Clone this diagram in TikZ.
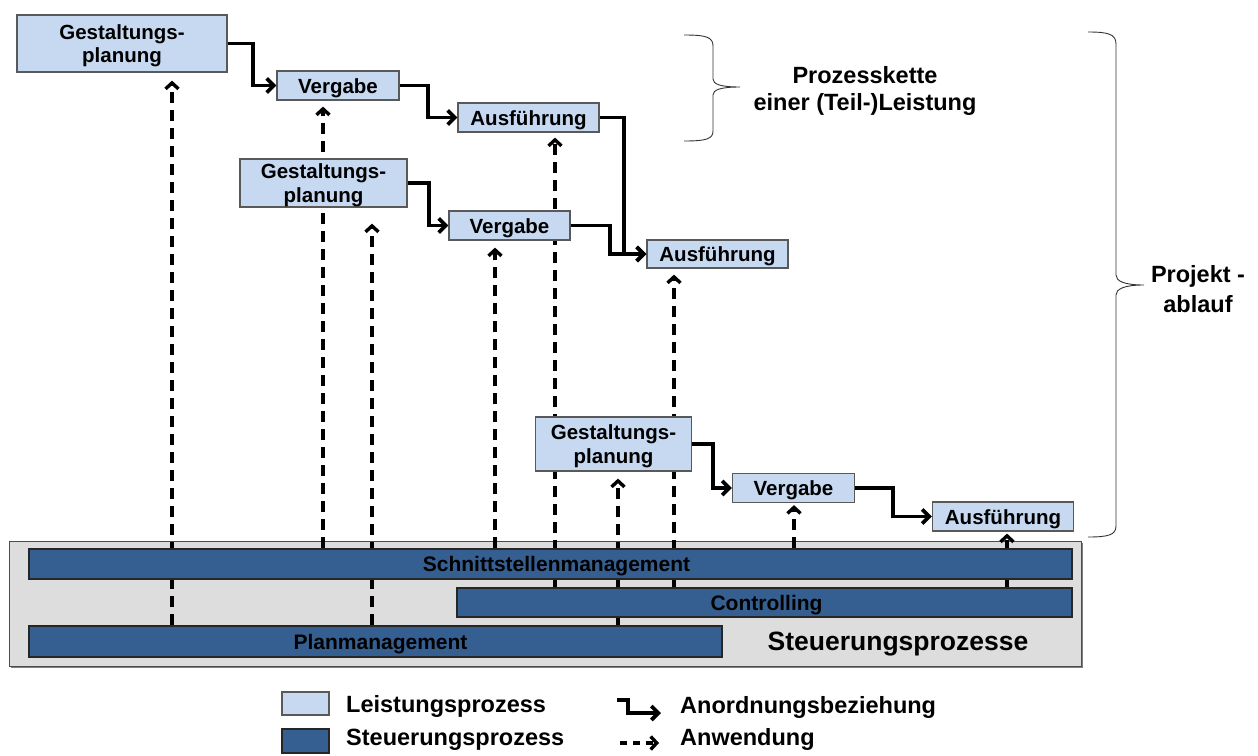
\documentclass[tikz,border=0pt]{standalone}
\usepackage{fontspec}
\setmainfont{Liberation Sans}
\usetikzlibrary{arrows.meta,calc}
\definecolor{lbox}{HTML}{C6D9F1}
\definecolor{dbar}{HTML}{365F91}
\definecolor{bggray}{HTML}{DDDDDD}
\pgfdeclarelayer{back}
\pgfdeclarelayer{mid}
\pgfsetlayers{back,mid,main}
\begin{document}
\begin{tikzpicture}[x=1pt,y=-1pt,
  lbx/.style={draw=black!65, line width=1.2pt, fill=lbox, inner sep=0pt, align=center,
    font=\fontsize{20.5}{23.5}\selectfont\bfseries},
  onel/.style={lbx, text height=15pt, text depth=-4.6pt},
  twol/.style={lbx, text depth=0pt},
  bar/.style={draw=black!85, line width=1.1pt, fill=dbar, inner sep=0pt,
    font=\fontsize{21}{24}\selectfont\bfseries, text height=15.5pt, text depth=-4.5pt},
  conn/.style={line width=3.8pt, -{Straight Barb[length=7pt,width=14pt]}},
  dline/.style={line width=3.4pt, dash pattern=on 11pt off 7pt, -{Straight Barb[length=6pt,width=13pt]}},
  lbl/.style={inner sep=0pt, font=\fontsize{23.5}{28}\selectfont\bfseries, align=center},
  bracestyle/.style={line width=0.9pt, draw=black!80},
]
\useasboundingbox (0,0) rectangle (1258,755);

% background of control processes
\begin{pgfonlayer}{back}
  \fill[black!50] (11,543) rectangle (1083,668);
  \node[draw=black!70, line width=1pt, fill=bggray, minimum width=1072pt, minimum height=125pt, inner sep=0pt] (bg) at (545,603.5) {};
\end{pgfonlayer}

% process boxes
\node[twol, minimum width=210pt, minimum height=57pt] (gp1) at (122,43.5) {Gestaltungs-\\planung};
\node[onel, minimum width=122pt, minimum height=29pt] (v1) at (338,85.5) {Vergabe};
\node[onel, minimum width=141pt, minimum height=29pt] (a1) at (528.5,117.5) {Ausführung};
\node[twol, minimum width=167pt, minimum height=48pt] (gp2) at (323.5,183) {Gestaltungs-\\planung};
\node[onel, minimum width=121pt, minimum height=29pt] (v2) at (509.5,225.5) {Vergabe};
\node[onel, minimum width=141pt, minimum height=28pt] (a2) at (717.5,254) {Ausführung};
\node[twol, minimum width=156pt, minimum height=54pt] (gp3) at (613.5,444) {Gestaltungs-\\planung};
\node[onel, minimum width=122pt, minimum height=29pt] (v3) at (793.5,488) {Vergabe};
\node[onel, minimum width=141pt, minimum height=29pt] (a3) at (1003,516.5) {Ausführung};

% control bars
\node[bar, minimum width=1043pt, minimum height=30pt] (sm) at (550.5,564) {\hspace*{12pt}Schnittstellenmanagement};
\node[bar, minimum width=615pt, minimum height=29pt] (ct) at (764.5,602.5) {\hspace*{4pt}Controlling};
\node[bar, minimum width=693pt, minimum height=31pt] (pm) at (375.5,641.5) {\hspace*{10pt}Planmanagement};
\node[inner sep=0pt, anchor=base, font=\fontsize{26.5}{30}\selectfont\bfseries] (stp) at (898,650) {Steuerungsprozesse};

% dashed "Anwendung" arrows (behind boxes and bars)
\coordinate (d1) at (172,0);
\coordinate (d2) at (323,0);
\coordinate (d3) at (372,0);
\coordinate (d4) at (495,0);
\coordinate (d5) at (555,0);
\coordinate (d6) at (618,0);
\coordinate (d7) at (674,0);
\coordinate (d8) at (794,0);
\coordinate (d9) at (1007,0);
\begin{pgfonlayer}{mid}
  \draw[dline] (d1 |- pm.north) -- ($(d1 |- gp1.south)+(0,8)$);
  \draw[dline] (d2 |- sm.north) -- ($(d2 |- v1.south)+(0,6)$);
  \draw[dline] (d3 |- pm.north) -- ($(d3 |- gp2.south)+(0,16)$);
  \draw[dline] (d4 |- sm.north) -- ($(d4 |- v2.south)+(0,7)$);
  \draw[dline] (d5 |- ct.north) -- ($(d5 |- a1.south)+(0,5)$);
  \draw[dline] (d6 |- pm.north) -- ($(d6 |- gp3.south)+(0,7)$);
  \draw[dline] (d7 |- ct.north) -- ($(d7 |- a2.south)+(0,6)$);
  \draw[dline] (d8 |- sm.north) -- ($(d8 |- v3.south)+(0,2)$);
  \draw[dline] (d9 |- ct.north) -- ($(d9 |- a3.south)+(0,2)$);
\end{pgfonlayer}

% solid "Anordnungsbeziehung" connectors
\draw[conn] (gp1.east) -- ++(25,0) |- (v1.west);
\draw[conn] (v1.east) -- ++(28,0) |- (a1.west);
\draw[conn] (a1.east) -- ++(24,0) |- (a2.west);
\draw[conn] (gp2.east) -- ++(21,0) |- (v2.west);
\draw[conn] (v2.east) -- ++(39,0) |- (a2.west);
\draw[conn] (gp3.east) -- ++(21,0) |- (v3.west);
\draw[conn] (v3.east) -- ++(38,0) |- (a3.west);

% braces
\draw[bracestyle] (684,35) .. controls (706,35) and (713,37) .. (713,46) -- (713,79)
  .. controls (713,84) and (720,87) .. (740,87)
  .. controls (720,87) and (713,90) .. (713,95) -- (713,131)
  .. controls (713,139) and (706,141) .. (684,141);
\node[lbl, anchor=base] (pk) at (865,83) {Prozesskette};
\node[lbl, anchor=base] (pk2) at (865,110) {einer (Teil-)Leistung};

\draw[bracestyle] (1088,32) .. controls (1108,32) and (1116,34) .. (1116,44) -- (1116,275)
  .. controls (1116,281) and (1124,285) .. (1144,285)
  .. controls (1124,285) and (1116,289) .. (1116,295) -- (1116,526)
  .. controls (1116,535) and (1108,537) .. (1088,537);
\node[lbl, anchor=base] (pa) at (1198,282) {Projekt -};
\node[lbl, anchor=base] (pa2) at (1198,312) {ablauf};

% legend
\node[lbx, minimum width=47pt, minimum height=23pt] (lg1) at (305.5,703.5) {};
\node[bar, minimum width=47pt, minimum height=24pt] (lg2) at (305.5,741) {};
\node[lbl, anchor=base west] (lt1) at (346,712) {Leistungsprozess};
\node[lbl, anchor=base west] (lt2) at (346,745) {Steuerungsprozess};
\coordinate (la1) at (617,700);
\coordinate (lam) at (628,700);
\coordinate (la2) at (661,713);
\draw[conn] (la1) -- (lam) |- (la2);
\node[lbl, anchor=base west] (lt3) at (680,713) {Anordnungsbeziehung};
\coordinate (lb1) at (620,743);
\coordinate (lb2) at (659,743);
\draw[dline, dash pattern=on 7pt off 6pt] (lb1) -- (lb2);
\node[lbl, anchor=base west] (lt4) at (680,745) {Anwendung};
\end{tikzpicture}
\end{document}
